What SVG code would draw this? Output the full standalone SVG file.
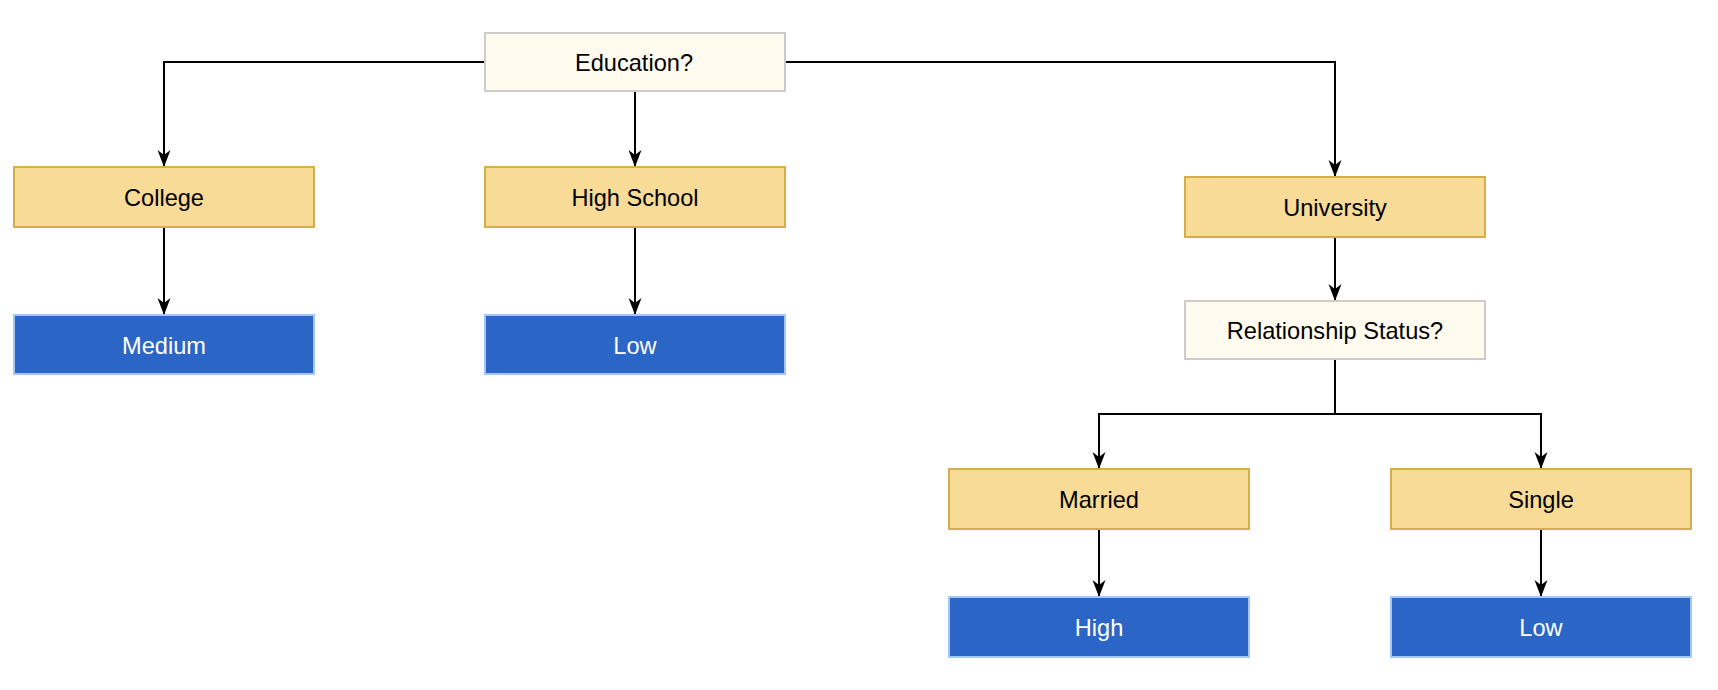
<svg xmlns="http://www.w3.org/2000/svg" width="1718" height="690" viewBox="0 0 1718 690">
<style>
.q rect{fill:#FFFCEF;stroke:#CCCCCC;stroke-width:2}
.c rect{fill:#F8DB96;stroke:#D6AD4B;stroke-width:2}
.r rect{fill:#2B65C6;stroke:#A4C8F5;stroke-width:2}
text{font-family:"Liberation Sans",Arial,sans-serif;font-size:23.6px;text-anchor:middle}
.q text,.c text{fill:#000}
.r text{fill:#fff}
.e path{fill:none;stroke:#000;stroke-width:2;marker-end:url(#arr)}
</style>
<defs>
<marker id="arr" markerUnits="userSpaceOnUse" viewBox="0 0 17 14" refX="17" refY="7" markerWidth="17" markerHeight="14" orient="auto">
<path d="M0,0.5 L17,7 L0,13.5 L5,7 Z" fill="#000"/>
</marker>
</defs>
<g class="e" id="connectors">
<path d="M485,62 H164 V167"/>
<path d="M635,91 V167"/>
<path d="M785,62 H1335 V177"/>
<path d="M164,227 V315"/>
<path d="M635,227 V315"/>
<path d="M1335,237 V301"/>
<path d="M1335,359 V414 H1099 V469"/>
<path d="M1335,359 V414 H1541 V469"/>
<path d="M1099,529 V597"/>
<path d="M1541,529 V597"/>
</g>
<g id="education" class="q"><rect x="485" y="33" width="300" height="58"/><text x="634" y="70.5">Education?</text></g>
<g id="college" class="c"><rect x="14" y="167" width="300" height="60"/><text x="164" y="205.5">College</text></g>
<g id="highschool" class="c"><rect x="485" y="167" width="300" height="60"/><text x="635" y="205.5">High School</text></g>
<g id="university" class="c"><rect x="1185" y="177" width="300" height="60"/><text x="1335" y="215.5">University</text></g>
<g id="relationship" class="q"><rect x="1185" y="301" width="300" height="58"/><text x="1335" y="338.5">Relationship Status?</text></g>
<g id="married" class="c"><rect x="949" y="469" width="300" height="60"/><text x="1099" y="507.5">Married</text></g>
<g id="single" class="c"><rect x="1391" y="469" width="300" height="60"/><text x="1541" y="507.5">Single</text></g>
<g id="medium" class="r"><rect x="14" y="315" width="300" height="59"/><text x="164" y="353.5">Medium</text></g>
<g id="low1" class="r"><rect x="485" y="315" width="300" height="59"/><text x="635" y="353.5">Low</text></g>
<g id="high" class="r"><rect x="949" y="597" width="300" height="60"/><text x="1099" y="635.5">High</text></g>
<g id="low2" class="r"><rect x="1391" y="597" width="300" height="60"/><text x="1541" y="635.5">Low</text></g>
</svg>
